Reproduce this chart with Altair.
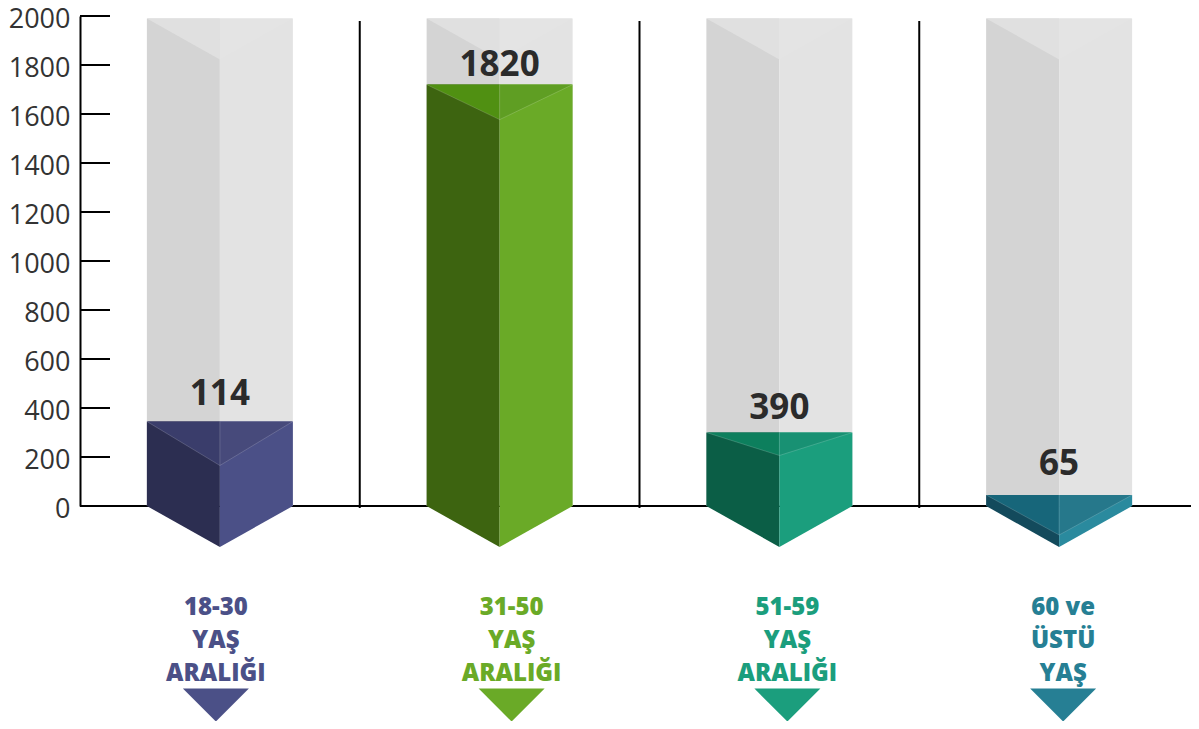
import altair as alt
import pandas as pd

# ---------------- data ----------------
categories = ["18-30\nYAŞ\nARALIĞI", "31-50\nYAŞ\nARALIĞI", "51-59\nYAŞ\nARALIĞI", "60 ve\nÜSTÜ\nYAŞ"]
value_labels = ["114", "1820", "390", "65"]
bar_heights = [345, 1720, 300, 45]      # drawn column heights on the axis scale
back_height = 1990                      # grey background column height
y_ticks = list(range(0, 2001, 200))

# ---------------- styles ----------------
side_left = ["#2c2e51", "#3d6410", "#0b5e46", "#134a5c"]
side_right = ["#4b5087", "#6aaa27", "#1b9e7d", "#2a8a9e"]
top_left = ["#3a3d6b", "#509012", "#0d7f5d", "#17667a"]
top_right = ["#474a7b", "#5f9e23", "#189173", "#26788b"]
label_colors = ["#4b5087", "#6aaa27", "#1b9e7d", "#267f94"]
back_side_left, back_side_right = "#d4d4d4", "#e3e3e3"
back_top_left, back_top_right = "#e0e0e0", "#e4e4e4"

PAD_TOP = 8
W, H = 1111, 490
BAND = 279.75                      # px per category band
XMAX = W / BAND
YMAX = 2000
UPP = YMAX / H                     # data units per pixel
HALF = 73 / BAND                   # half column width (x units)
TOP_DEPTH = [44, 35, 23, 40]       # px depth of visible top face
BOTTOM_DEPTH = 41                  # px depth of bottom point
BACK_DEPTH = 41
VALUE_GAP = [27, 20, 25, 31]       # px gap from column top to value label centre
LABEL_SHIFT = [-4, 12, 8, 4]       # px shift of category labels
FONT = "Open Sans"

xscale = alt.Scale(domain=[0, XMAX], nice=False, zero=False)
yscale = alt.Scale(domain=[0, YMAX], nice=False, zero=False)
yaxis = alt.Axis(values=y_ticks, format="d", tickSize=0, ticks=False, domainColor="#000000",
                 domainWidth=2, labelFont=FONT, labelFontSize=27, labelColor="#333333",
                 labelPadding=10, labelOffset=3, grid=False, labelFlush=False,
                 labelOverlap=False, title=None)

rect_back, rect_col, area_back, area_bot, area_top, seams = [], [], [], [], [], []
vals, cats = [], []
for i, h in enumerate(bar_heights):
    c = i + 0.5
    L, R = c - HALF, c + HALF
    rect_back.append(dict(x=L, x2=c, y=0, y2=back_height, fill=back_side_left))
    rect_back.append(dict(x=c, x2=R, y=0, y2=back_height, fill=back_side_right))
    bd = BACK_DEPTH * UPP
    area_back += [dict(pid=f"b{i}l", x=L, y=back_height, y2=back_height, fill=back_top_left),
                  dict(pid=f"b{i}l", x=c, y=back_height, y2=back_height - bd, fill=back_top_left),
                  dict(pid=f"b{i}r", x=c, y=back_height, y2=back_height - bd, fill=back_top_right),
                  dict(pid=f"b{i}r", x=R, y=back_height, y2=back_height, fill=back_top_right)]
    rect_col.append(dict(x=L, x2=c, y=0, y2=h, fill=side_left[i]))
    rect_col.append(dict(x=c, x2=R, y=0, y2=h, fill=side_right[i]))
    dd = BOTTOM_DEPTH * UPP
    area_bot += [dict(pid=f"d{i}l", x=L, y=0, y2=0, fill=side_left[i]),
                 dict(pid=f"d{i}l", x=c, y=0, y2=-dd, fill=side_left[i]),
                 dict(pid=f"d{i}r", x=c, y=0, y2=-dd, fill=side_right[i]),
                 dict(pid=f"d{i}r", x=R, y=0, y2=0, fill=side_right[i])]
    td = TOP_DEPTH[i] * UPP
    area_top += [dict(pid=f"t{i}l", x=L, y=h, y2=h, fill=top_left[i]),
                 dict(pid=f"t{i}l", x=c, y=h, y2=h - td, fill=top_left[i]),
                 dict(pid=f"t{i}r", x=c, y=h, y2=h - td, fill=top_right[i]),
                 dict(pid=f"t{i}r", x=R, y=h, y2=h, fill=top_right[i])]
    # faint light seams of the top face
    seams += [dict(pid=f"s{i}v", o=0, x=L, y=h), dict(pid=f"s{i}v", o=1, x=c, y=h - td),
              dict(pid=f"s{i}v", o=2, x=R, y=h),
              dict(pid=f"s{i}c", o=0, x=c, y=h), dict(pid=f"s{i}c", o=1, x=c, y=h - td)]
    vals.append(dict(x=c, y=h + VALUE_GAP[i] * UPP, label=value_labels[i]))
    cats.append(dict(x=c + LABEL_SHIFT[i] / BAND, label=categories[i], color=label_colors[i]))

df_rb, df_rc = pd.DataFrame(rect_back), pd.DataFrame(rect_col)
df_ab, df_ad, df_at = pd.DataFrame(area_back), pd.DataFrame(area_bot), pd.DataFrame(area_top)
df_seam = pd.DataFrame(seams)
df_val, df_cat = pd.DataFrame(vals), pd.DataFrame(cats)
df_sep = pd.DataFrame({"x": [1, 2, 3]})
df_base = pd.DataFrame({"x": [0], "x2": [XMAX], "y": [0]})
df_ticks = pd.DataFrame({"y": y_ticks})

top_page = 8 + PAD_TOP             # plot-area top in page pixels
py = lambda page_y: page_y - top_page

X = lambda f: alt.X(f, type="quantitative", scale=xscale, axis=None)
Y = lambda f: alt.Y(f, type="quantitative", scale=yscale, axis=yaxis, stack=None)

baseline = alt.Chart(df_base).mark_rule(color="#000", strokeWidth=2).encode(
    x=X("x"), x2="x2", y=Y("y"))
seps = alt.Chart(df_sep).mark_rule(color="#000", strokeWidth=2).encode(
    x=X("x"), y=alt.value(py(21)), y2=alt.value(py(508)))

back_rects = alt.Chart(df_rb).mark_rect().encode(
    x=X("x"), x2="x2", y=Y("y"), y2="y2", color=alt.Color("fill:N", scale=None))

def areas(df):
    return alt.Chart(df).mark_area(opacity=1, strokeWidth=0).encode(
        x=X("x"), y=Y("y"), y2="y2", detail="pid:N", color=alt.Color("fill:N", scale=None))

back_top = areas(df_ab)
col_rects = alt.Chart(df_rc).mark_rect().encode(
    x=X("x"), x2="x2", y=Y("y"), y2="y2", color=alt.Color("fill:N", scale=None))
bottoms = areas(df_ad)
tops = areas(df_at)
seam_lines = alt.Chart(df_seam).mark_line(color="#ffffff", strokeWidth=0.8, opacity=0.22).encode(
    x=X("x"), y=Y("y"), detail="pid:N", order="o:Q")

ticks = alt.Chart(df_ticks).mark_rule(color="#000", strokeWidth=2).encode(
    y=Y("y"), x=alt.value(0), x2=alt.value(30))

values = alt.Chart(df_val).mark_text(font=FONT, fontSize=35, fontWeight="bold",
                                     color="#2b2b2b", baseline="middle").encode(
    x=X("x"), y=Y("y"), text="label:N")

cat_text = alt.Chart(df_cat).mark_text(font=FONT, fontSize=24, fontWeight=800,
                                       baseline="alphabetic", lineBreak="\n", lineHeight=33).encode(
    x=X("x"), y=alt.value(py(615)), text="label:N", color=alt.Color("color:N", scale=None))

arrows = alt.Chart(df_cat).mark_point(shape="M-1,-0.5L1,-0.5L0,0.5Z", filled=True, size=4356,
                                      opacity=1, strokeWidth=0).encode(
    x=X("x"), y=alt.value(py(705)), color=alt.Color("color:N", scale=None))

chart = alt.layer(baseline, seps, back_rects, back_top, col_rects, bottoms, tops, seam_lines,
                  ticks, values, cat_text, arrows).properties(
    width=W, height=H,
    autosize=alt.AutoSizeParams(type="none"),
    padding={"left": 72, "top": PAD_TOP, "right": 0, "bottom": 713 - PAD_TOP - H},
).configure_view(stroke=None)

chart.save("out.html", embed_options={"renderer": "svg", "actions": False})
